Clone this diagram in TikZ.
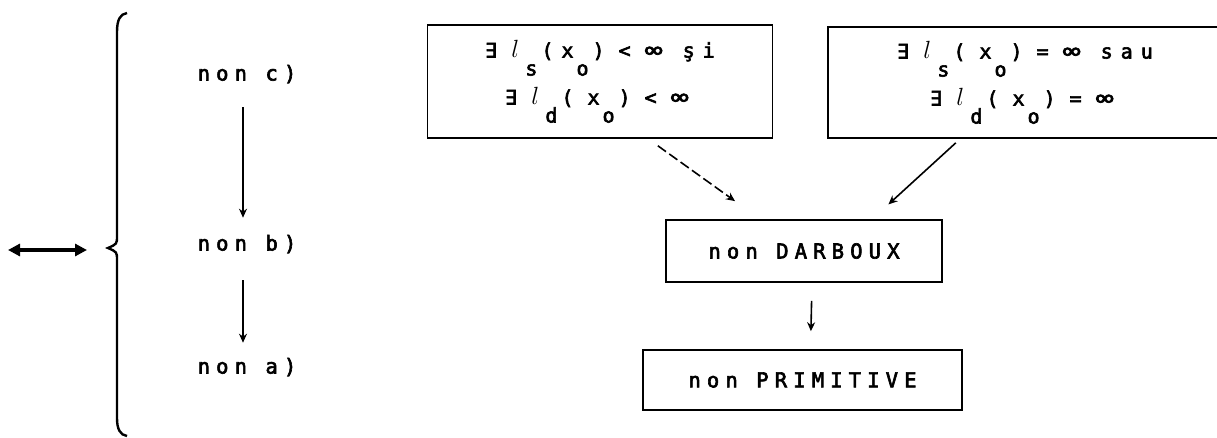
\documentclass[tikz,border=0pt]{standalone}
\usepackage{fontspec}
\usetikzlibrary{arrows.meta}
\newfontfamily\dotfont[LetterSpace=30,FakeBold=3]{DejaVu Sans Mono}
\newfontfamily\boxfont[LetterSpace=40,FakeBold=3]{DejaVu Sans Mono}
\newcommand{\limfont}{\boxfont\fontsize{20}{47}\selectfont\spaceskip=14pt\relax}
\newcommand{\idx}[1]{\kern3pt\raisebox{-18pt}{#1}\kern4pt}
\newcommand{\lsym}{{\fontsize{25}{25}\selectfont$l$}\,}
\newcommand{\infsym}{\scalebox{1.5}[1.1]{∞}\kern6pt}

\begin{document}
\begin{tikzpicture}[x=1pt,y=-1pt,line width=1.6pt,
  >={Stealth[length=9pt,width=8pt]},
  every node/.style={font=\dotfont\fontsize{20.5}{46}\selectfont},
  box/.style={draw,line width=1.6pt,inner sep=0pt,align=center},
  lim/.style={box,font=\limfont},
  lbl/.style={inner sep=0pt,text height=15pt,text depth=4pt}]

\clip (0,0) rectangle (1217,438);

% left side
\coordinate (L) at (8,250);
\coordinate (R) at (87,250);
\draw[{Triangle[length=12pt,width=12pt]}-{Triangle[length=12pt,width=12pt]},line width=4.5pt] (L) -- (R);
\draw[line width=2.4pt] (127,13) .. controls (120,14) and (117,20) .. (117,32) -- (117,236)
  .. controls (117,244) .. (108,248) .. controls (117,252) .. (117,260) -- (117,418)
  .. controls (117,429) and (120,435) .. (127,436);

% nodes
\node[lbl] (nc) at (247,75) {non c)};
\node[lbl] (nb) at (247,245) {non b)};
\node[lbl] (na) at (247,368) {non a)};

\node[lim,minimum width=345pt,minimum height=113pt] (fin) at (600,81.5)
  {∃ \lsym\idx{s}(x\idx{o}) < \infsym{} şi\\∃ \lsym\idx{d}( x\idx{o}) < \infsym};
\node[lim,minimum width=394pt,minimum height=111pt] (inf) at (1025,82.5)
  {∃ \lsym\idx{s}( x\idx{o}) = \infsym{} sau\\∃ \lsym\idx{d}( x\idx{o}) = \infsym};
\node[box,minimum width=276pt,minimum height=62pt] (dar) at (804,251) {non DARBOUX};
\node[box,minimum width=319pt,minimum height=60pt] (prim) at (802.5,380) {non PRIMITIVE};

% arrows
\path[->] ([xshift=-4pt]nc.south) edge[shorten <=22pt,shorten >=17pt] ([xshift=-4pt]nb.north);
\path[->] ([xshift=-4pt]nb.south) edge[shorten <=25pt,shorten >=15pt] ([xshift=-4pt]na.north);
\path[->,dash pattern=on 10pt off 4pt] (fin.-50) edge[shorten <=12pt,shorten >=31pt] (dar.144);
\path[->] (inf.-139.5) edge[shorten <=6pt,shorten >=22pt] (dar.25);
\path[->] ([xshift=8pt]dar.south) edge[shorten <=18pt,shorten >=18pt] ([xshift=8pt]prim.north);

\end{tikzpicture}
\end{document}
